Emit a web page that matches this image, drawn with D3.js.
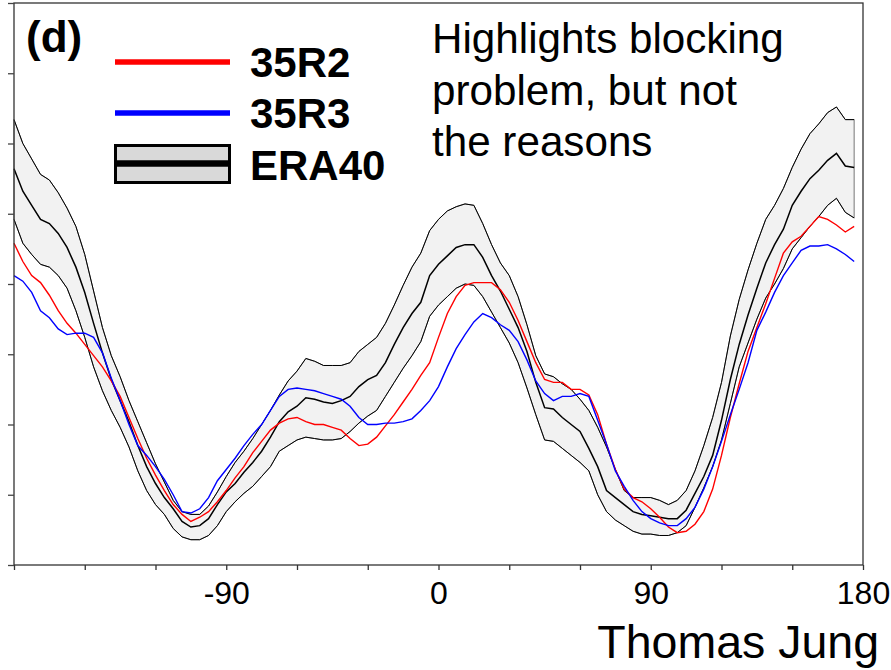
<!DOCTYPE html>
<html>
<head>
<meta charset="utf-8">
<script src="https://cdn.jsdelivr.net/npm/d3@7"></script>
<style>
    body { margin: 0; background: #fff; }
    text { font-family: "Liberation Sans", Arial, sans-serif; }
</style>
</head>
<body>
<div id="chart"></div>
<script>

// longitude grid (3.75 deg), -180 .. 176.25
const lons = d3.range(-180, 180, 3.75);

// blocking frequency, ERA40 band (upper / mean / lower)
const era40Upper = [31.7,30.0,28.9,27.8,27.4,26.5,25.4,24.1,22.1,19.5,
    16.9,14.9,13.4,11.7,10.2,8.7,7.2,5.9,4.6,3.8,
    3.6,3.6,4.2,5.2,6.3,7.3,8.1,9.0,10.0,11.0,
    12.1,13.1,13.8,14.7,14.5,14.2,14.2,14.2,14.4,15.2,
    15.7,16.2,17.2,18.5,19.9,21.2,22.2,23.8,24.6,25.2,
    25.5,25.7,25.6,24.3,22.8,21.5,20.6,19.1,17.1,14.9,
    13.6,13.4,12.9,12.5,11.8,11.0,9.8,8.4,6.8,5.3,
    4.8,4.8,4.8,4.6,4.3,4.6,5.3,6.7,8.5,10.5,
    13.0,16.3,18.9,21.0,22.9,24.6,25.6,26.8,28.3,29.6,
    30.7,31.4,32.2,32.6,31.7,31.7]

const era40Mean = [28.2,26.6,25.6,24.6,24.3,23.6,22.6,21.2,19.4,17.2,
    15.1,13.2,11.7,10.2,8.5,7.0,5.8,4.8,4.0,3.1,
    2.7,2.8,3.3,4.3,5.2,5.8,6.6,7.3,8.1,9.1,
    10.2,10.9,11.3,11.9,11.8,11.6,11.5,11.7,12.0,12.7,
    13.2,13.5,14.4,15.7,16.9,17.9,18.7,20.6,21.4,22.0,
    22.6,22.8,22.8,21.9,20.6,19.5,18.2,16.9,15.2,13.0,
    11.2,11.1,10.5,10.0,9.5,8.3,7.0,5.3,4.8,4.3,
    3.8,3.6,3.5,3.4,3.3,3.3,3.9,5.1,6.3,7.8,
    10.3,13.2,15.7,17.8,19.7,21.5,22.8,23.9,25.6,26.6,
    27.5,28.1,28.8,29.3,28.4,28.3]

const era40Lower = [24.6,22.9,22.1,21.4,21.2,20.6,19.7,18.1,16.2,14.1,
    12.4,11.0,9.8,8.4,6.7,5.3,4.3,3.6,2.6,2.0,
    1.8,1.8,2.1,2.8,3.8,4.5,5.1,5.6,6.3,7.0,
    8.1,8.5,8.9,9.1,9.0,8.9,8.9,9.0,9.5,10.1,
    10.6,11.0,12.0,13.0,14.0,14.9,15.9,17.7,18.5,19.1,
    19.7,20.0,19.9,19.1,18.0,16.9,15.8,14.4,12.6,10.7,
    8.9,8.8,8.3,7.8,7.3,6.7,5.0,3.8,3.2,2.8,
    2.4,2.2,2.2,2.1,2.1,2.3,2.8,4.1,5.5,7.0,
    8.9,11.5,14.1,15.8,17.5,19.0,20.0,21.1,22.5,23.3,
    24.1,24.8,25.6,26.1,25.1,24.7]

// model cycles
const cy35R2 = [22.9,21.6,20.6,20.1,19.2,18.1,17.2,16.5,15.7,14.9,
    14.1,13.1,12.0,10.5,9.0,7.6,6.4,5.3,4.3,3.6,
    3.1,3.4,3.8,4.5,5.3,6.2,7.0,8.0,8.8,9.6,
    10.1,10.4,10.5,10.2,10.0,10.0,9.8,9.6,9.0,8.5,
    8.6,9.1,9.9,10.7,11.6,12.5,13.5,14.4,16.2,17.9,
    19.1,19.9,20.1,20.1,20.1,19.6,18.7,17.4,15.9,14.4,
    13.2,13.0,13.0,12.5,12.5,12.1,10.7,8.6,6.8,5.4,
    4.8,4.5,4.0,3.4,2.7,2.3,2.4,2.9,3.8,5.4,
    7.8,10.5,12.9,15.2,16.9,18.6,20.4,22.2,23.0,23.4,
    24.1,24.8,24.6,24.2,23.7,24.1]

const cy35R3 = [20.6,20.2,19.4,18.1,17.6,16.8,16.4,16.5,16.5,16.2,
    15.1,13.3,11.7,10.0,8.5,7.8,7.0,6.1,5.0,3.8,
    3.7,4.0,4.8,6.0,6.8,7.6,8.5,9.3,10.0,11.0,
    12.0,12.5,12.6,12.5,12.4,12.2,12.0,11.8,11.3,10.5,
    10.0,10.0,10.1,10.1,10.2,10.4,11.0,11.7,12.7,14.1,
    15.4,16.4,17.3,17.9,17.6,17.1,16.7,15.9,14.6,13.1,
    12.2,11.7,12.0,12.0,12.2,12.0,10.3,8.6,6.7,5.6,
    4.6,3.8,3.3,3.0,2.8,2.8,3.3,4.1,5.4,7.0,
    8.8,10.7,12.5,14.4,16.7,18.0,19.4,20.6,21.5,22.4,
    22.7,22.7,22.8,22.5,22.1,21.6]

// axis ticks
const xTicks = d3.range(-180, 181, 30)
const xTickLabels = [-90, 0, 90, 180]
const yTicks = d3.range(0, 41, 5)

const legendNames = ['35R2', '35R3', 'ERA40']
const noteLines = ['Highlights blocking', 'problem, but not', 'the reasons']


class BlockingChart {

    constructor(parentElement) {
        this.parentElement = parentElement;
        this.initVis()
    }

    initVis() {
        let vis = this;

        vis.margin = {top: 3, right: 28, bottom: 105, left: 14};
        vis.width = 891 - vis.margin.left - vis.margin.right;
        vis.height = 670 - vis.margin.top - vis.margin.bottom;

        vis.root = d3.select("#" + vis.parentElement).append("svg")
            .attr("width", 891)
            .attr("height", 670);

        vis.svg = vis.root.append('g')
            .attr('transform', `translate (${vis.margin.left}, ${vis.margin.top})`);

        vis.x = d3.scaleLinear().domain([-180, 180]).range([0, vis.width]);
        vis.y = d3.scaleLinear().domain([0, 40]).range([vis.height, 0]);

        vis.rows = lons.map((lon, i) => ({
            lon: lon,
            upper: era40Upper[i],
            mean: era40Mean[i],
            lower: era40Lower[i],
            r2: cy35R2[i],
            r3: cy35R3[i]
        }))

        vis.drawLines();
        vis.drawAxes();
        vis.drawLegend();
    }

    drawLines() {
        let vis = this;

        // ERA40 band
        let area = d3.area()
            .x(d => vis.x(d.lon))
            .y0(d => vis.y(d.lower))
            .y1(d => vis.y(d.upper));

        vis.svg.append('path')
            .datum(vis.rows)
            .attr('d', area)
            .attr('fill', '#f2f2f2')
            .attr('stroke', '#777')
            .attr('stroke-width', 1);

        let line = key => d3.line()
            .x(d => vis.x(d.lon))
            .y(d => vis.y(d[key]));

        ['upper', 'lower'].forEach(key => {
            vis.svg.append('path')
                .datum(vis.rows)
                .attr('d', line(key))
                .attr('fill', 'none')
                .attr('stroke', '#000')
                .attr('stroke-width', 1);
        })

        vis.svg.append('path')
            .datum(vis.rows)
            .attr('d', line('mean'))
            .attr('fill', 'none')
            .attr('stroke', '#000')
            .attr('stroke-width', 1.5);

        vis.svg.append('path')
            .datum(vis.rows)
            .attr('d', line('r2'))
            .attr('fill', 'none')
            .attr('stroke', '#ff0000')
            .attr('stroke-width', 1.4);

        vis.svg.append('path')
            .datum(vis.rows)
            .attr('d', line('r3'))
            .attr('fill', 'none')
            .attr('stroke', '#0000ff')
            .attr('stroke-width', 1.4);
    }

    drawAxes() {
        let vis = this;

        // frame
        vis.svg.append('rect')
            .attr('width', vis.width)
            .attr('height', vis.height)
            .attr('fill', 'none')
            .attr('stroke', '#333')
            .attr('stroke-width', 1.3);

        let xAxis = vis.svg.append('g')
            .attr('class', 'axis x-axis')
            .attr('transform', `translate (0,${vis.height})`)
            .call(d3.axisBottom(vis.x)
                .tickValues(xTicks)
                .tickSize(5)
                .tickFormat(d => xTickLabels.includes(d) ? String(d) : ''));

        xAxis.select('.domain').remove();
        xAxis.selectAll('line').attr('stroke', '#333').attr('stroke-width', 1.3);
        xAxis.selectAll('text')
            .attr('y', 39)
            .attr('dy', 0)
            .attr('fill', '#000')
            .style('font-size', '32px')
            .style('font-family', '"Liberation Sans", Arial, sans-serif');

        let yAxis = vis.svg.append('g')
            .attr('class', 'axis y-axis')
            .call(d3.axisLeft(vis.y).tickValues(yTicks).tickSize(6).tickFormat(''));

        yAxis.select('.domain').remove();
        yAxis.selectAll('line').attr('stroke', '#444').attr('stroke-width', 1.3);

        // author credit under the axis
        vis.root.append('text')
            .attr('x', 879)
            .attr('y', 658)
            .attr('text-anchor', 'end')
            .style('font-size', '46.5px')
            .text('Thomas Jung');
    }

    drawLegend() {
        let vis = this;

        // panel letter
        vis.root.append('text')
            .attr('x', 26)
            .attr('y', 52)
            .style('font-size', '44px')
            .style('font-weight', 'bold')
            .text('(d)');

        let leg = vis.root.append('g').attr('class', 'legend');

        leg.append('line')
            .attr('x1', 115).attr('x2', 230)
            .attr('y1', 62).attr('y2', 62)
            .attr('stroke', '#ff0000').attr('stroke-width', 5.5);

        leg.append('line')
            .attr('x1', 115).attr('x2', 230)
            .attr('y1', 113).attr('y2', 113)
            .attr('stroke', '#0000ff').attr('stroke-width', 5.5);

        leg.append('rect')
            .attr('x', 115.5).attr('y', 145.5)
            .attr('width', 114).attr('height', 37)
            .attr('fill', '#d9d9d9')
            .attr('stroke', '#000').attr('stroke-width', 3);

        leg.append('line')
            .attr('x1', 115).attr('x2', 230)
            .attr('y1', 163.5).attr('y2', 163.5)
            .attr('stroke', '#000').attr('stroke-width', 6.5);

        leg.selectAll('text.name')
            .data(legendNames)
            .enter().append('text')
            .attr('class', 'name')
            .attr('x', 250)
            .attr('y', (d, i) => [77, 128, 180][i])
            .style('font-size', '42px')
            .style('font-weight', 'bold')
            .text(d => d);

        // comment text
        vis.root.selectAll('text.note')
            .data(noteLines)
            .enter().append('text')
            .attr('class', 'note')
            .attr('x', 432)
            .attr('y', (d, i) => 53 + i * 51.5)
            .style('font-size', '42.2px')
            .text(d => d);
    }
}

new BlockingChart('chart');

</script>
</body>
</html>
